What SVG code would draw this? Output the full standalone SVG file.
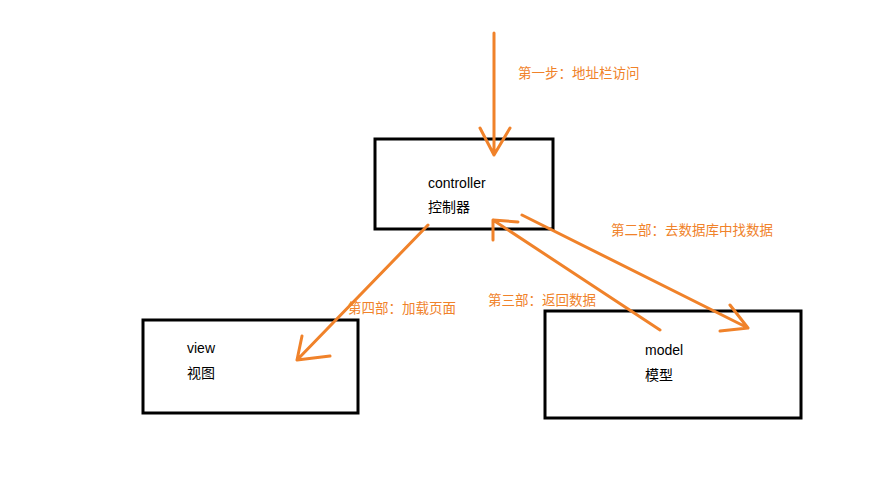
<svg xmlns="http://www.w3.org/2000/svg" width="889" height="500" viewBox="0 0 889 500">
<style>
.box{fill:#fff;stroke:#000;stroke-width:3}
.t{font-family:"Liberation Sans","Noto Sans CJK SC",sans-serif;font-size:14px;fill:#000}
.l{font-family:"Liberation Sans","Noto Sans CJK SC",sans-serif;font-size:13.5px;fill:#F0822A}
.a{fill:none;stroke:#F0822A;stroke-width:3;stroke-linecap:round;stroke-linejoin:round}
</style>
<rect width="889" height="500" fill="#fff"/>
<g id="controller"><rect class="box" x="375" y="139" width="178" height="90"/><text class="t" x="428" y="188">controller</text><text class="t" x="428" y="212">控制器</text></g>
<g id="view"><rect class="box" x="143" y="320" width="215" height="93"/><text class="t" x="187" y="353">view</text><text class="t" x="187" y="378">视图</text></g>
<g id="model"><rect class="box" x="545" y="311" width="256" height="107"/><text class="t" x="645" y="355">model</text><text class="t" x="645" y="380">模型</text></g>
<g id="connectors">
<path class="a" d="M494 33 L494 155 M480 128 L494 155 L510 128"/>
<path class="a" d="M522 215 L748 328 M730 305 L748 328 L720 331"/>
<path class="a" d="M660 330 L493 220 M493 240 L493 220 L518 222"/>
<path class="a" d="M428 225 L297 360 M302 336 L297 360 L330 356"/>
</g>
<text class="l" x="518" y="78">第一步：地址栏访问</text>
<text class="l" x="611" y="235">第二部：去数据库中找数据</text>
<text class="l" x="488" y="305">第三部：返回数据</text>
<text class="l" x="348" y="313">第四部：加载页面</text>
</svg>
